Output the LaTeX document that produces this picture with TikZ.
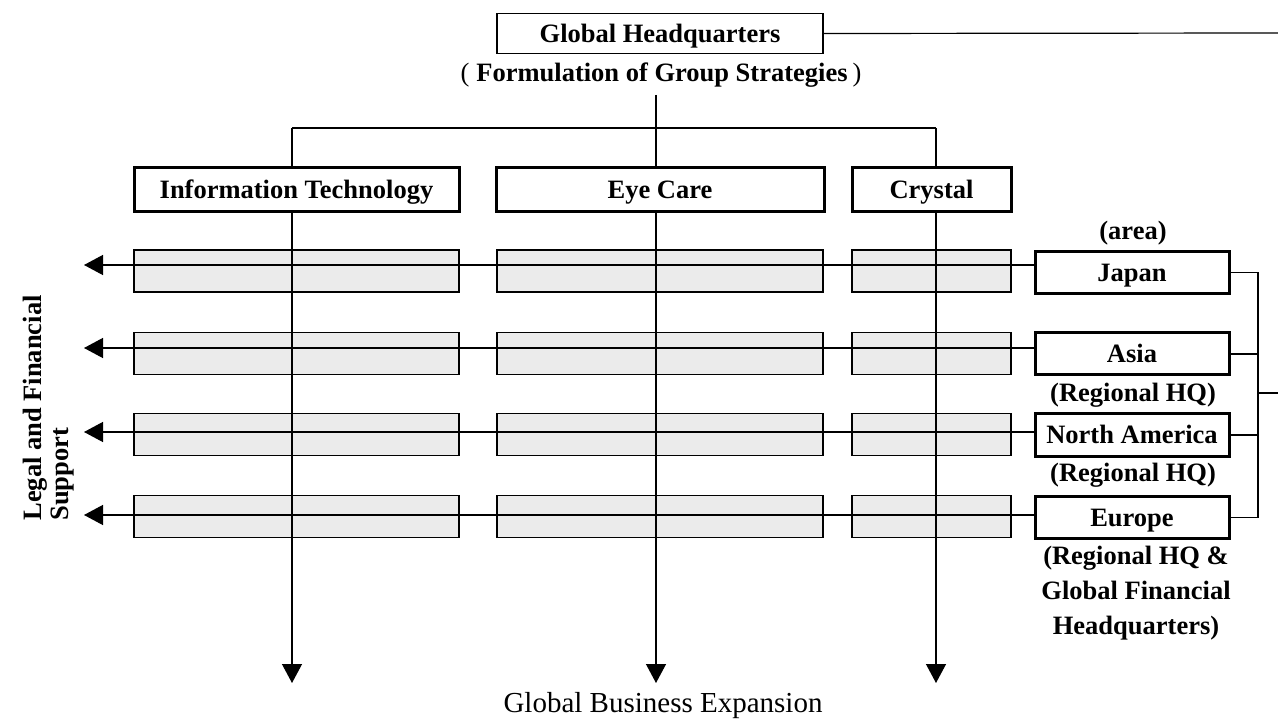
\documentclass[tikz,border=0pt]{standalone}
\usepackage{fontspec}
\setmainfont{Liberation Serif}
\usetikzlibrary{arrows.meta,calc}
\begin{document}
\begin{tikzpicture}[x=1pt,y=-1pt,
  lbl/.style={font=\bfseries\fontsize{26.5}{32}\selectfont},
  boxtext/.style={lbl,text height=17.5pt,text depth=0pt},
  hqbox/.style={draw,line width=1.6pt,minimum width=326pt,minimum height=40pt,inner sep=0pt,boxtext},
  catbox/.style={draw,line width=3pt,minimum height=44pt,inner sep=0pt,boxtext},
  hatchbox/.style={draw,line width=1.2pt,fill=black!8,minimum height=42pt,inner sep=0pt},
  areabox/.style={draw,line width=3pt,minimum width=194pt,minimum height=42pt,inner sep=0pt,boxtext},
  conn/.style={line width=1.2pt},
  arr/.style={line width=1.3pt,-{Triangle[length=19pt,width=20pt]}},
  plain/.style={lbl,inner sep=0pt}
]
\useasboundingbox (0,0) rectangle (1278,719);

% headquarters
\node[hqbox] (hq) at (660,33.5) {Global Headquarters};
\node[plain] (form) at (661,75) {{\mdseries(}\kern7pt Formulation of Group Strategies\kern5pt{\mdseries)}};
\coordinate (hqtop) at (656,95);
\coordinate (edge1) at (1278,33);
\draw[conn] (hq.east) -- (edge1);

% categories
\node[catbox,minimum width=325pt] (it) at (296.5,190) {Information Technology};
\node[catbox,minimum width=328pt] (ec) at (660,190) {Eye Care};
\node[catbox,minimum width=159pt] (cr) at (931.5,190) {Crystal};

\coordinate (barL) at (292,128);
\coordinate (barR) at (936,128);
\draw[conn] (hqtop) -- (hqtop |- ec.north);
\draw[conn] (barL) -- (barR);
\draw[conn] (barL) -- (barL |- it.north);
\draw[conn] (barR) -- (barR |- cr.north);

% hatched grid
\foreach \r/\yy in {1/271,2/353.5,3/434.5,4/516.5}{
  \node[hatchbox,minimum width=325pt] (h\r a) at (296.5,\yy) {};
  \node[hatchbox,minimum width=326pt] (h\r b) at (660,\yy) {};
  \node[hatchbox,minimum width=159pt] (h\r c) at (931.5,\yy) {};
}

% area boxes
\node[plain] (arealbl) at (1133,233) {(area)};
\node[areabox] (jp) at (1132,272.5) {Japan};
\node[areabox] (as) at (1132,354) {Asia};
\node[plain] (rhq1) at (1133,395) {(Regional HQ)};
\node[areabox] (na) at (1132,435) {North America};
\node[plain] (rhq2) at (1133,475) {(Regional HQ)};
\node[areabox] (eu) at (1132,517.5) {Europe};
\node[plain,align=center,font=\bfseries\fontsize{26.5}{35}\selectfont] (eulbl) at (1136,593) {(Regional HQ \&\\Global Financial\\Headquarters)};

% rows to the left
\coordinate (t1) at (84,265);
\coordinate (t2) at (84,348);
\coordinate (t3) at (84,432);
\coordinate (t4) at (84,515);
\draw[arr] (jp.west |- t1) -- (t1);
\draw[arr] (as.west |- t2) -- (t2);
\draw[arr] (na.west |- t3) -- (t3);
\draw[arr] (eu.west |- t4) -- (t4);

% columns down
\coordinate (d1) at (292,683);
\coordinate (d2) at (656,683);
\coordinate (d3) at (936,683);
\draw[arr] (d1 |- it.south) -- (d1);
\draw[arr] (d2 |- ec.south) -- (d2);
\draw[arr] (d3 |- cr.south) -- (d3);

% bracket on the right
\coordinate (brk) at (1258,393);
\coordinate (edge2) at (1278,393);
\draw[conn] (jp.east) -| (brk) |- (eu.east);
\draw[conn] (as.east) -- (as.east -| brk);
\draw[conn] (na.east) -- (na.east -| brk);
\draw[conn] (brk) -- (edge2);

% side and bottom labels
\node[plain,rotate=90,align=left,font=\bfseries\fontsize{26.5}{27}\selectfont] (legal) at (49,408) {Legal and Financial\\Support};
\node[inner sep=0pt,font=\fontsize{29}{32}\selectfont] (gbe) at (663,706) {Global Business Expansion};
\end{tikzpicture}
\end{document}
